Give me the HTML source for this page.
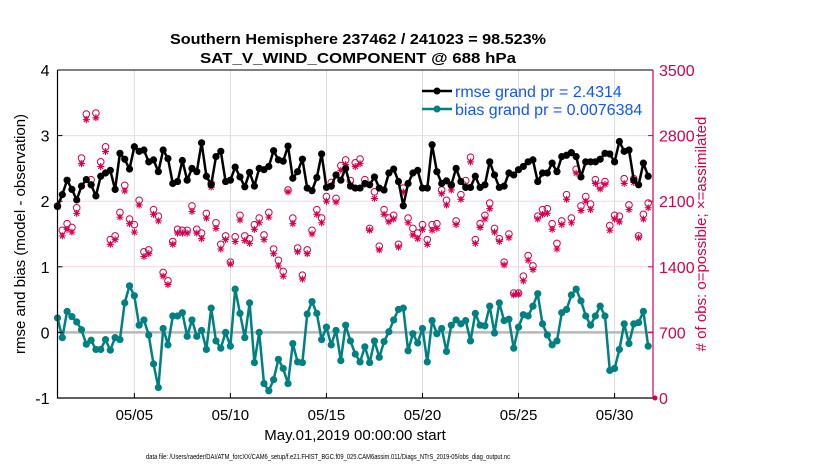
<!DOCTYPE html>
<html><head><meta charset="utf-8"><style>
body{margin:0;background:#fff}
svg{display:block;font-family:"Liberation Sans",Arial,sans-serif}
</style></head><body>
<svg id="chart" width="830" height="470" viewBox="0 0 830 470" xmlns="http://www.w3.org/2000/svg">
<rect width="830" height="470" fill="#fff"/>
<g id="grid"></g>
<g id="marks"></g>
<g id="axes"></g>
<text x="358" y="44" text-anchor="middle" font-size="15" font-weight="bold" textLength="376" lengthAdjust="spacingAndGlyphs">Southern Hemisphere 237462 / 241023 = 98.523%</text>
<text x="358" y="63" text-anchor="middle" font-size="15" font-weight="bold" textLength="316" lengthAdjust="spacingAndGlyphs">SAT_V_WIND_COMPONENT @ 688 hPa</text>
<text transform="translate(25,234) rotate(-90)" text-anchor="middle" font-size="15">rmse and bias (model - observation)</text>
<text transform="translate(706,234) rotate(-90)" text-anchor="middle" font-size="15" fill="#d4004f"># of obs: o=possible; ×=assimilated</text>
<text x="355" y="440" text-anchor="middle" font-size="15">May.01,2019 00:00:00 start</text>
<text x="328" y="459" text-anchor="middle" font-size="7" textLength="364" lengthAdjust="spacingAndGlyphs">data file: /Users/raeder/DAI/ATM_forcXX/CAM6_setup/f.e21.FHIST_BGC.f09_025.CAM6assim.011/Diags_NTrS_2019-05/obs_diag_output.nc</text>
<g>
<g>
<line x1="422" y1="91" x2="452" y2="91" stroke="#000" stroke-width="2.5"/><circle cx="437" cy="91" r="3.5" fill="#000"/>
<text x="455" y="97" font-size="16" fill="#1155ff">rmse grand pr = 2.4314</text></g>
<g>
<line x1="422" y1="109" x2="452" y2="109" stroke="#008080" stroke-width="2.5"/><circle cx="437" cy="109" r="3.5" fill="#008080"/>
<text x="455" y="115" font-size="16" fill="#1155ff">bias grand pr = 0.0076384</text></g>
</g>
</svg>
<script>
const rmse=[1.92,2.10,2.32,2.18,2.02,2.23,2.33,2.25,2.08,2.38,2.43,2.47,2.18,2.73,2.64,2.49,2.83,2.76,2.78,2.60,2.63,2.45,2.78,2.65,2.27,2.30,2.62,2.32,2.50,2.45,2.89,2.38,2.25,2.68,2.76,2.30,2.32,2.52,2.37,2.22,2.44,2.23,2.50,
2.48,2.53,2.77,2.63,2.61,2.84,2.35,2.45,2.64,2.20,2.16,2.36,2.72,2.21,2.23,2.40,2.32,2.50,2.23,2.20,2.20,2.27,2.25,2.37,2.20,2.17,2.43,2.49,2.30,1.93,2.27,2.43,2.47,2.20,2.20,2.86,2.45,2.27,2.31,2.25,2.50,
2.30,2.21,2.21,2.38,2.21,2.25,2.60,2.40,2.21,2.23,2.43,2.40,2.48,2.53,2.60,2.63,2.30,2.43,2.43,2.58,2.45,2.68,2.70,2.74,2.68,2.37,2.60,2.60,2.60,2.64,2.73,2.72,2.60,2.91,2.76,2.78,2.32,2.25,2.58,2.38];
const bias=[0.22,-0.08,0.32,0.24,0.16,0.04,-0.18,-0.12,-0.26,-0.26,-0.11,-0.27,-0.08,-0.11,0.45,0.71,0.56,0.11,0.19,-0.04,-0.48,-0.84,0.06,-0.19,0.25,0.25,0.30,-0.06,0.19,-0.06,0.03,-0.26,0.37,-0.13,-0.24,0.00,-0.21,0.66,0.29,-0.08,0.45,-0.46,0.00,
-0.78,-0.89,-0.72,-0.41,-0.55,-0.78,-0.17,-0.45,-0.46,0.28,0.47,0.29,-0.11,0.08,-0.19,0.03,-0.43,0.11,-0.13,-0.33,-0.45,-0.22,-0.46,-0.13,-0.38,-0.14,0.01,0.19,0.35,0.37,-0.28,-0.02,-0.16,0.06,-0.45,0.18,-0.02,0.06,-0.29,0.11,0.19,
0.13,0.18,-0.13,0.29,0.11,0.10,0.40,-0.01,0.45,0.18,0.20,-0.24,0.08,0.27,0.25,0.40,0.59,0.13,-0.04,-0.19,-0.13,0.30,0.35,0.57,0.66,0.48,0.25,0.11,0.25,0.40,0.25,-0.58,-0.55,-0.26,0.13,-0.17,0.13,0.15,0.32,-0.21];
const possible=[2050,1790,1860,1820,2030,2560,3030,2330,3040,2520,2680,1690,1730,1980,2270,1910,1850,2110,1560,1580,2010,1940,1340,1250,1670,1800,1790,1790,2050,1800,1760,1970,2290,1870,1640,1730,1450,1720,1950,1730,1700,1850,1920,
1740,1980,1590,1470,1350,2220,1920,1600,1310,1580,1790,2010,1920,2150,2300,2130,2480,2540,2320,2510,2550,2330,1810,2200,1620,2010,1920,1950,1640,2240,1920,1810,1760,1850,1690,1850,1860,2220,2110,2270,1890,
2170,2320,2570,1690,1860,1950,2080,1810,1700,1450,1750,1120,1120,1300,1520,1410,1940,2010,2020,1860,1650,1890,2170,1920,2440,2050,2150,2070,2330,2260,2310,1840,1950,1940,2340,2060,2340,1730,1960,2080];
const assimilated=[2040,1730,1800,1770,1970,2500,2970,2280,2990,2470,2630,1640,1690,1930,2210,1860,1770,2060,1510,1540,1960,1890,1300,1210,1640,1760,1760,1760,1990,1760,1700,1920,2250,1810,1590,1690,1430,1670,1900,1680,1650,1800,1870,
1690,1930,1540,1410,1300,2200,1860,1560,1270,1540,1750,1960,1870,2100,2260,2090,2430,2490,2280,2470,2500,2280,1790,2130,1580,1960,1880,1910,1610,2200,1870,1740,1700,1800,1640,1790,1810,2180,2060,2220,1850,
2120,2270,2520,1650,1820,1910,2020,1770,1670,1420,1710,1100,1110,1250,1470,1370,1910,1960,1970,1800,1590,1850,2120,1870,2400,2000,2100,2010,2290,2230,2280,1790,1910,1880,2290,2010,2300,1710,1910,2030];
const xTickDays=[5,10,15,20,25,30];
const xTickLabels=["05/05","05/10","05/15","05/20","05/25","05/30"];
const leftTicks=[4,3,2,1,0,-1];
const rightTicks=[3500,2800,2100,1400,700,0];

const L=57.5,R=653,T=70,B=398;
const xS=d=>L+(d-1)*(R-L)/31;
const yL=v=>T+(4-v)*(B-T)/5;
const yR=v=>B-v*(B-T)/3500;
const dayOf=i=>1+i*0.25;
const NS="http://www.w3.org/2000/svg";
function mk(tag,parent,attrs){const e=document.createElementNS(NS,tag);for(const k in attrs)e.setAttribute(k,attrs[k]);parent.appendChild(e);return e;}
const grid=document.getElementById('grid'),marks=document.getElementById('marks'),axes=document.getElementById('axes');

xTickDays.forEach((d,i)=>{
  const gl=mk('line',grid,{x1:xS(d),x2:xS(d),y1:T,y2:B,stroke:'#dcdcdc','stroke-width':1});
  
  
  const tk=mk('line',axes,{x1:xS(d),x2:xS(d),y1:B,y2:B-5,stroke:'#000'});
  
  
  const t=mk('text',axes,{x:xS(d),y:B+22,'text-anchor':'middle','font-size':15});
  t.textContent=xTickLabels[i];
  
  
});
leftTicks.forEach(v=>{
  if(v>-1&&v<4){const gl=mk('line',grid,{x1:L,x2:R,y1:yL(v),y2:yL(v),stroke:'#f0d8e0','stroke-width':1});
  
  }
  const t=mk('text',axes,{x:L-8,y:yL(v)+6,'text-anchor':'end','font-size':16});
  t.textContent=v;
  
  
  const tk=mk('line',axes,{x1:L,x2:L+5,y1:yL(v),y2:yL(v),stroke:'#000'});
  
  
});
rightTicks.forEach(v=>{
  const t=mk('text',axes,{x:R+6,y:yR(v)+6,'font-size':16,fill:'#d4004f'});
  t.textContent=v;
  
  
  const tk=mk('line',axes,{x1:R-5,x2:R,y1:yR(v),y2:yR(v),stroke:'#d4004f'});
  
  
});
const zl=mk('line',grid,{x1:L,x2:R,y1:yL(0),y2:yL(0),stroke:'#b8b8b8','stroke-width':2.5});



possible.forEach((v,i)=>{
  const c=mk('circle',marks,{cx:xS(dayOf(i)),cy:yR(v),r:3.3,fill:'none',stroke:'#d4004f','stroke-width':1});
  
  
});
assimilated.forEach((v,i)=>{
  const x=xS(dayOf(i)),y=yR(v),r=3.5;
  const d=`M${x-r},${y}H${x+r}M${x},${y-r}V${y+r}M${x-2.5},${y-2.5}L${x+2.5},${y+2.5}M${x-2.5},${y+2.5}L${x+2.5},${y-2.5}`;
  const s=mk('path',marks,{d:d,stroke:'#d4004f','stroke-width':1.1,fill:'none'});
  
  
});
function series(arr,color,name){
  const pts=arr.map((v,i)=>xS(dayOf(i)).toFixed(1)+','+yL(v).toFixed(1)).join(' ');
  const pl=mk('polyline',marks,{points:pts,fill:'none',stroke:color,'stroke-width':2.5,'stroke-linejoin':'round'});
  
  
  arr.forEach((v,i)=>{
    const c=mk('circle',marks,{cx:xS(dayOf(i)),cy:yL(v),r:3.6,fill:color});
    
    
  });
}
series(rmse,'#000','rmse');
series(bias,'#008080','bias');
const endm=mk('circle',marks,{cx:R+2,cy:B,r:2.5,fill:'#d4004f'});



const la=mk('path',axes,{d:`M${L},${T} L${L},${B} L${R},${B}`,fill:'none',stroke:'#000','stroke-width':1.2});


const ta=mk('line',axes,{x1:L,x2:R,y1:T,y2:T,stroke:'#000','stroke-width':1});


const ra=mk('line',axes,{x1:R,x2:R,y1:T,y2:B,stroke:'#d4004f','stroke-width':1.2});


</script>
</body></html>
